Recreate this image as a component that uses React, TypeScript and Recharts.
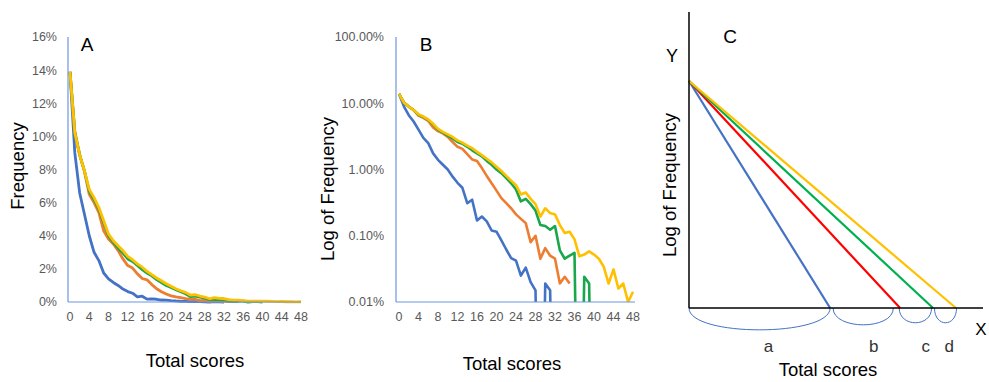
import React from "react";
import { LineChart, Line, XAxis, YAxis, ReferenceArea, ReferenceDot } from "recharts";

// Total scores 0..48
const scores: number[] = Array.from({ length: 49 }, (_, i) => i);

// Frequencies in percent (null = no data)
const blueFreq: (number | null)[] = [
  13.9, 9.0, 6.6, 5.3, 4.0, 3.0, 2.5, 1.75, 1.4, 1.18, 1.0, 0.78, 0.63, 0.53, 0.31, 0.35, 0.17, 0.195, 0.165, 0.12,
  0.115, 0.085, 0.062, 0.046, 0.042, 0.025, 0.033, 0.02, 0.015, 0, 0.019, 0.015, 0,
];
const orangeFreq: (number | null)[] = [
  13.9, 10.3, 8.9, 7.9, 6.5, 6.0, 5.4, 4.3, 3.8, 3.5, 3.1, 2.6, 2.2, 2.05, 1.7, 1.42, 1.34, 1.05, 0.8, 0.62,
  0.48, 0.37, 0.31, 0.26, 0.21, 0.18, 0.155, 0.08, 0.1, 0.045, 0.065, 0.05, 0.045, 0.019, 0.024, 0.019,
];
const greenFreq: (number | null)[] = [
  13.9, 10.2, 8.9, 7.9, 6.7, 6.2, 5.6, 4.8, 4.0, 3.6, 3.25, 2.95, 2.6, 2.45, 2.2, 1.95, 1.75, 1.58, 1.35, 1.18,
  1.0, 0.88, 0.74, 0.62, 0.5, 0.33, 0.36, 0.3, 0.24, 0.145, 0.14, 0.123, 0.14, 0.06, 0.045, 0.05, 0.055, 0, 0.024, 0.019, 0,
];
const yellowFreq: (number | null)[] = [
  13.9, 10.2, 8.9, 7.9, 6.8, 6.3, 5.7, 4.9, 4.1, 3.7, 3.4, 3.1, 2.75, 2.55, 2.3, 2.1, 1.85, 1.65, 1.45, 1.28,
  1.1, 0.95, 0.8, 0.68, 0.58, 0.42, 0.45, 0.36, 0.3, 0.195, 0.26, 0.22, 0.21, 0.145, 0.11, 0.115, 0.088, 0.049, 0.052, 0.058,
  0.052, 0.045, 0.034, 0.019, 0.031, 0.016, 0.019, 0.01, 0.0143,
];

const xTicks: number[] = [0, 4, 8, 12, 16, 20, 24, 28, 32, 36, 40, 44, 48];
const linearTicks: number[] = [0, 2, 4, 6, 8, 10, 12, 14, 16];
const logTicks: number[] = [0.01, 0.1, 1, 10, 100];

// Panel C schematic
const cStartY = 76.7;
const cEnds: number[] = [48, 71.8, 83, 90.8];
const cColors: string[] = ["#4472C4", "#FF0000", "#00B050", "#FFC000"];
const braceFrom: number[] = [0, 49, 71.5, 83.5];
const braceTo: number[] = [48, 69.5, 82.5, 91];
const braceDepth: number[] = [7.4, 5.7, 5, 5];
const braceLabels: string[] = ["a", "b", "c", "d"];
const braceLabelX: number[] = [27, 62.8, 80.5, 88.5];

const BLUE = "#4472C4";
const ORANGE = "#ED7D31";
const GREEN = "#1AA64A";
const YELLOW = "#FFC000";
const AXIS = "#6C96E0";
const FONT = "'Liberation Sans', Arial, sans-serif";

const pick = (arr: (number | null)[], i: number): number | null => (i < arr.length ? arr[i] : null);

const rowsA = scores.map((s, i) => ({
  s,
  blue: pick(blueFreq, i),
  orange: pick(orangeFreq, i),
  green: pick(greenFreq, i),
  yellow: pick(yellowFreq, i),
}));
const toLog = (v: number | null) => (v === null ? null : v <= 0 ? 1e-6 : v);
const rowsB = rowsA.map((r) => ({
  s: r.s,
  blue: toLog(r.blue),
  orange: toLog(r.orange),
  green: toLog(r.green),
  yellow: toLog(r.yellow),
}));

const tickStyle = { fill: "#595959", fontSize: 12.5, fontFamily: FONT };

const Txt = ({ x, y, size, children, rotate }: any) => (
  <div
    style={{
      position: "absolute",
      left: x,
      top: y,
      transform: `translate(-50%, -50%)${rotate ? " rotate(-90deg)" : ""}`,
      whiteSpace: "nowrap",
      fontFamily: FONT,
      fontSize: size,
      color: "#000",
      lineHeight: 1,
    }}
  >
    {children}
  </div>
);

const series = [
  { key: "blue", color: BLUE },
  { key: "orange", color: ORANGE },
  { key: "green", color: GREEN },
  { key: "yellow", color: YELLOW },
];

const Brace = (props: any) => {
  const { x, y, width, height } = props;
  const d = `M${x},${y} C${x},${y + height * 1.33} ${x + width},${y + height * 1.33} ${x + width},${y}`;
  return <path d={d} fill="none" stroke="#4472C4" strokeWidth={1} />;
};

export default function App() {
  return (
    <div style={{ position: "absolute", left: 0, top: 0, width: 989, height: 382, background: "#fff", overflow: "hidden" }}>
      {/* Panel A */}
      <div style={{ position: "absolute", left: 0, top: 0 }}>
        <LineChart width={330} height={382} data={rowsA} margin={{ top: 37, right: 29, bottom: 50, left: 0 }}>
          <XAxis
            dataKey="s"
            type="number"
            domain={[0, 48]}
            ticks={xTicks}
            interval={0}
            tickLine={false}
            tickSize={0}
            tickMargin={10}
            height={30}
            padding={{ left: 2, right: 0 }}
            axisLine={{ stroke: AXIS, strokeWidth: 1.2 }}
            tick={tickStyle}
          />
          <YAxis
            type="number"
            domain={[0, 16]}
            ticks={linearTicks}
            interval={0}
            width={68}
            tickLine={false}
            tickSize={0}
            tickMargin={11}
            axisLine={{ stroke: AXIS, strokeWidth: 1.2 }}
            tick={tickStyle}
            tickFormatter={(v: number) => `${v}%`}
          />
          {series.map((sr) => (
            <Line
              key={sr.key}
              dataKey={sr.key}
              stroke={sr.color}
              strokeWidth={2.8}
              dot={false}
              isAnimationActive={false}
              strokeLinejoin="round"
            />
          ))}
        </LineChart>
      </div>

      {/* Panel B */}
      <div style={{ position: "absolute", left: 310, top: 0 }}>
        <LineChart width={330} height={382} data={rowsB} margin={{ top: 37, right: 5, bottom: 50, left: 0 }}>
          <XAxis
            dataKey="s"
            type="number"
            domain={[0, 48]}
            ticks={xTicks}
            interval={0}
            tickLine={false}
            tickSize={0}
            tickMargin={10}
            height={30}
            padding={{ left: 3, right: 2 }}
            axisLine={{ stroke: AXIS, strokeWidth: 1.2 }}
            tick={tickStyle}
          />
          <YAxis
            type="number"
            scale="log"
            domain={[0.01, 100]}
            allowDataOverflow
            ticks={logTicks}
            interval={0}
            width={86}
            tickLine={false}
            tickSize={0}
            tickMargin={12}
            axisLine={{ stroke: AXIS, strokeWidth: 1.2 }}
            tick={tickStyle}
            tickFormatter={(v: number) => `${v.toFixed(2)}%`}
          />
          {series.map((sr) => (
            <Line
              key={sr.key}
              dataKey={sr.key}
              stroke={sr.color}
              strokeWidth={2.6}
              dot={false}
              isAnimationActive={false}
              strokeLinejoin="round"
            />
          ))}
        </LineChart>
      </div>

      {/* Panel C */}
      <div style={{ position: "absolute", left: 640, top: 0 }}>
        <LineChart width={349} height={382} margin={{ top: 12, right: 6, bottom: 73, left: 0 }}>
          <XAxis
            dataKey="x"
            type="number"
            domain={[0, 100]}
            tick={false}
            tickLine={false}
            height={1}
            axisLine={{ stroke: "#000", strokeWidth: 1.5 }}
          />
          <YAxis
            type="number"
            domain={[0, 100]}
            tick={false}
            tickLine={false}
            width={49}
            axisLine={{ stroke: "#000", strokeWidth: 1.5 }}
          />
          {cEnds.map((end, i) => (
            <Line
              key={i}
              data={[
                { x: 0, y: cStartY },
                { x: end, y: 0 },
              ]}
              dataKey="y"
              stroke={cColors[i]}
              strokeWidth={2.2}
              dot={false}
              isAnimationActive={false}
            />
          ))}
          {braceFrom.map((f, i) => (
            <ReferenceArea
              key={`b${i}`}
              x1={f}
              x2={braceTo[i]}
              y1={-braceDepth[i]}
              y2={0}
              ifOverflow="visible"
              shape={<Brace />}
            />
          ))}
          {braceLabels.map((lab, i) => (
            <ReferenceDot
              key={`l${i}`}
              x={braceLabelX[i]}
              y={-13}
              r={0}
              ifOverflow="visible"
              shape={(p: any) => (
                <text x={p.cx} y={p.cy} dy="0.35em" textAnchor="middle" fontFamily={FONT} fontSize={17} fill="#333">
                  {lab}
                </text>
              )}
            />
          ))}
        </LineChart>
      </div>

      {/* Text labels */}
      <Txt x={87} y={44} size={19}>A</Txt>
      <Txt x={18} y={166} size={18.5} rotate>Frequency</Txt>
      <Txt x={195} y={361} size={18.5}>Total scores</Txt>

      <Txt x={426} y={44} size={19}>B</Txt>
      <Txt x={328} y={189} size={18.5} rotate>Log of Frequency</Txt>
      <Txt x={512} y={364} size={18.5}>Total scores</Txt>

      <Txt x={730} y={36} size={19}>C</Txt>
      <Txt x={672} y={56} size={18}>Y</Txt>
      <Txt x={981} y={329} size={17}>X</Txt>
      <Txt x={670} y={185} size={18.5} rotate>Log of Frequency</Txt>
      <Txt x={828} y={370} size={18.5}>Total scores</Txt>
    </div>
  );
}
